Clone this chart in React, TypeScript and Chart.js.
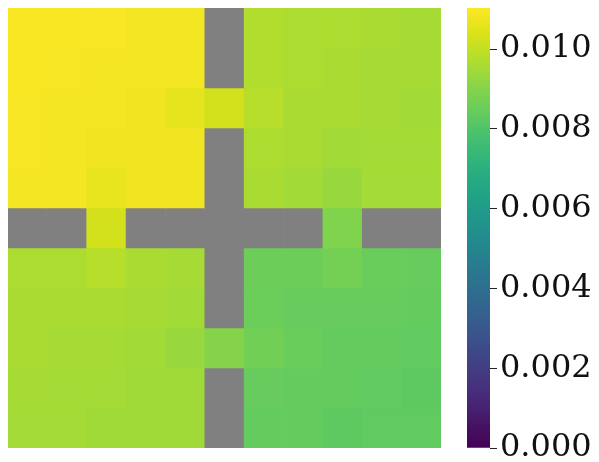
import React, { useEffect, useRef } from "react";
import { Chart, registerables } from "chart.js";

Chart.register(...registerables);

const columns = ["0", "1", "2", "3", "4", "5", "6", "7", "8", "9", "10"];
const rowLabels = ["0", "1", "2", "3", "4", "5", "6", "7", "8", "9", "10"];

const row0 = [0.01097, 0.01097, 0.01095, 0.01086, 0.01084, null, 0.00971, 0.00965, 0.00965, 0.0096, 0.00954];
const row1 = [0.01097, 0.01092, 0.01086, 0.01086, 0.01084, null, 0.00971, 0.00965, 0.0096, 0.00954, 0.00954];
const row2 = [0.01092, 0.01086, 0.01086, 0.01081, 0.01059, 0.01026, 0.00982, 0.0096, 0.0096, 0.00954, 0.00949];
const row3 = [0.01092, 0.01086, 0.01081, 0.01081, 0.01081, null, 0.00965, 0.0096, 0.00949, 0.00951, 0.00951];
const row4 = [0.01086, 0.01086, 0.01064, 0.01081, 0.01081, null, 0.0096, 0.00949, 0.00932, 0.00951, 0.00951];
const row5 = [null, null, 0.01026, null, null, null, null, null, 0.00893, null, null];
const row6 = [0.00965, 0.00965, 0.00982, 0.0096, 0.00954, null, 0.00855, 0.00855, 0.00871, 0.00849, 0.00844];
const row7 = [0.0096, 0.0096, 0.0096, 0.00954, 0.00949, null, 0.00852, 0.00844, 0.00844, 0.00844, 0.00838];
const row8 = [0.0096, 0.00954, 0.00954, 0.00949, 0.00932, 0.00899, 0.00866, 0.00849, 0.00838, 0.00838, 0.00833];
const row9 = [0.00954, 0.00951, 0.00951, 0.00946, 0.00946, null, 0.00844, 0.00838, 0.00838, 0.00833, 0.00829];
const row10 = [0.00951, 0.00951, 0.00946, 0.00946, 0.00946, null, 0.00838, 0.00838, 0.00829, 0.00833, 0.00833];

const rows: (number | null)[][] = [row0, row1, row2, row3, row4, row5, row6, row7, row8, row9, row10];

const VMIN = 0;
const VMAX = 0.01103;
const colorbarTicks = [0, 0.002, 0.004, 0.006, 0.008, 0.01];
const MISSING = "#808080";

const viridisStops: [number, string][] = [
  [0.0, "#440154"], [0.111, "#482878"], [0.143, "#46327e"], [0.222, "#3e4989"],
  [0.25, "#3b528b"], [0.286, "#365c8d"], [0.333, "#31688e"], [0.375, "#2c728e"],
  [0.429, "#277f8e"], [0.5, "#21918c"], [0.556, "#1f9e89"], [0.625, "#28ae80"],
  [0.667, "#35b779"], [0.714, "#4ac16d"], [0.75, "#5ec962"], [0.778, "#6ece58"],
  [0.8, "#7ad151"], [0.857, "#a0da39"], [0.875, "#addc30"], [0.889, "#b5de2b"],
  [0.9, "#bddf26"], [0.9375, "#d8e219"], [1.0, "#fde725"],
];

function hexToRgb(h: string) {
  return [parseInt(h.slice(1, 3), 16), parseInt(h.slice(3, 5), 16), parseInt(h.slice(5, 7), 16)];
}

function viridis(t: number) {
  const x = Math.max(0, Math.min(1, t));
  for (let i = 1; i < viridisStops.length; i++) {
    const [t1, c1] = viridisStops[i];
    const [t0, c0] = viridisStops[i - 1];
    if (x <= t1) {
      const f = (x - t0) / (t1 - t0);
      const a = hexToRgb(c0);
      const b = hexToRgb(c1);
      const r = a.map((v, k) => Math.round(v + (b[k] - v) * f));
      return `rgb(${r[0]},${r[1]},${r[2]})`;
    }
  }
  return viridisStops[viridisStops.length - 1][1];
}

function cellColor(v: number | null) {
  if (v === null) return MISSING;
  return viridis((v - VMIN) / (VMAX - VMIN));
}

export default function App() {
  const heatRef = useRef<HTMLCanvasElement>(null);
  const barRef = useRef<HTMLCanvasElement>(null);

  useEffect(() => {
    const heat = new Chart(heatRef.current!, {
      type: "bar",
      data: {
        labels: columns,
        datasets: rows.map((r, i) => ({
          label: rowLabels[i],
          data: r.map(() => 1),
          backgroundColor: r.map(cellColor),
          borderWidth: 0,
          barPercentage: 1,
          categoryPercentage: 1,
        })),
      },
      options: {
        responsive: false,
        animation: false,
        layout: { padding: { left: 8, top: 8, right: 158, bottom: 14 } },
        plugins: { legend: { display: false }, tooltip: { enabled: false } },
        scales: {
          x: { stacked: true, display: false },
          y: { stacked: true, display: false, min: 0, max: rows.length, reverse: true },
        },
      },
    });

    const cb = new Chart(barRef.current!, {
      type: "bar",
      data: {
        labels: ["cb"],
        datasets: [
          {
            data: [VMAX],
            borderWidth: 0,
            barPercentage: 1,
            categoryPercentage: 1,
            backgroundColor: (ctx: any) => {
              const area = ctx.chart.chartArea;
              if (!area) return "#21918c";
              const g = ctx.chart.ctx.createLinearGradient(0, area.bottom, 0, area.top);
              for (let i = 0; i <= 50; i++) g.addColorStop(i / 50, viridis(i / 50));
              return g;
            },
          },
        ],
      },
      options: {
        responsive: false,
        animation: false,
        layout: { padding: { left: 467, top: 8, right: 0, bottom: 14 } },
        plugins: { legend: { display: false }, tooltip: { enabled: false } },
        scales: {
          x: { display: false },
          y: {
            position: "right",
            min: VMIN,
            max: VMAX,
            afterFit: (s: any) => {
              s.width = 109;
              s.paddingTop = 0;
              s.paddingBottom = 0;
            },
            afterBuildTicks: (s: any) => {
              s.ticks = colorbarTicks.map((v) => ({ value: v }));
            },
            border: { display: false },
            grid: { drawOnChartArea: false, tickLength: 7, tickColor: "#222", tickWidth: 1 },
            ticks: {
              autoSkip: false,
              padding: 3,
              color: "#111",
              font: { family: "DejaVu Serif", size: 32 },
              callback: (v: any) => Number(v).toFixed(3),
            },
          },
        },
      },
    });

    return () => {
      heat.destroy();
      cb.destroy();
    };
  }, []);

  return (
    <div style={{ position: "absolute", left: 0, top: 0, width: 599, height: 462, background: "#fff" }}>
      <canvas ref={heatRef} width={599} height={462} style={{ position: "absolute", left: 0, top: 0 }} />
      <canvas ref={barRef} width={599} height={462} style={{ position: "absolute", left: 0, top: 0 }} />
    </div>
  );
}
